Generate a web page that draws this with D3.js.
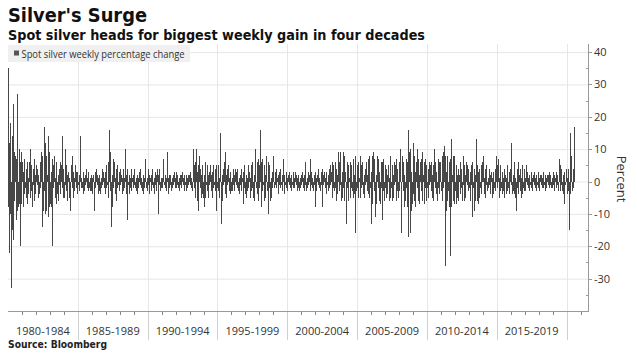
<!DOCTYPE html>
<html>
<head>
<meta charset="utf-8">
<script src="https://cdn.jsdelivr.net/npm/d3@7"></script>
<style>
  html, body { margin: 0; padding: 0; background: #fff; }
  svg { display: block; }
  .tick-label { font-family: "Open Sans", sans-serif; font-size: 11px; fill: #333; }
</style>
</head>
<body>
<div id="chart"></div>
<script>
const chg1980s = [
  [35, -8, -22, 12, -10, 18, -33, 14, -15, 24, -18, 9, -6, 8, -12, 7, -9, 27, -8, 10, -7, 6, -20, 9],
  [-7, 6, -8, 3, -4, 7, -2, 4, -5, 6, -7, 1, -4, 6, -5, 10, -3, 5, -8, 4, -1, 7, -6, 2],
  [-4, 5, -1, 4, -5, 2, -4, 6, -2, 7, 9, -14, 8, -9, 17, -3, 12, -10, 8, -9, 2, -11, 14, -8],
  [9, -7, 3, -8, 7, -20, 5, -2, 8, -5, 1, -7, 6, -4, 2, -6, 4, -1, 6, -4, 5, -2, 14, -5],
  [4, -5, 10, -1, 5, -3, 2, -6, 3, -5, 1, -3, -9, 5, 8, -2, 3, -5, 1, -3, 5, -2, 3, -4],
  [3, -1, 2, -3, 4, 14, -2, 1, -2, 3, -4, 1, -3, 2, -1, 4, -2, 1, -3, 3, -2, 1, -3, 2],
  [-3, 1, -4, 2, -1, -9, 3, -2, 4, -1, 2, -4, 1, -3, 2, -4, 1, -2, 4, -1, 3, -2, 1, -4],
  [3, -2, 5, -1, 6, -5, 8, 16, -3, 9, -14, 2, -8, 7, -2, 6, -4, 1, -6, 4, -2, 5, -1, 3],
  [-3, 4, -1, 2, -4, 1, -3, 4, -2, 1, 10, -4, 2, -12, 4, -1, 2, -4, 1, -2, 4, -3, 1, -2],
  [2, -1, 4, -2, 1, -3, 2, -4, 1, -2, 3, -1, 4, -2, 1, -3, 2, -4, 1, -2, 3, 7, -2, 1]
];
const chg1990s = [
  [-3, 4, -1, 2, -4, 1, -3, 2, -1, 4, -2, 1, -4, 3, -1, 2, -3, 4, -10, 2, -1, 4, -3, 1],
  [-2, 1, -2, 3, 7, -1, 2, -2, 1, -3, 9, -4, 1, -2, 2, -1, 2, -3, 1, -2, 2, -1, 3, -2],
  [1, -2, 3, -1, 2, -2, 1, -3, 2, -1, 2, -2, 3, -1, 1, -3, 2, -1, 2, -3, 1, -2, 2, -1],
  [2, -1, 3, -2, 1, -3, 4, 10, -2, 5, -5, 6, 10, -6, 3, -9, 5, 8, -2, 4, -5, 2, -4, 5],
  [-5, -8, 2, -5, 6, -1, 5, -3, 2, -5, 3, -1, 5, -3, 2, -5, 3, -2, 5, -1, 4, -3, -9, 5],
  [-2, 5, -3, 1, -5, 6, 15, -13, 2, -6, 4, -1, 6, 9, -4, 2, -5, 4, -1, 5, -3, 1, -4, 3],
  [-3, 1, -3, 4, -1, 2, -3, 4, -1, 3, -2, 4, -3, 1, -4, 2, -1, 4, -3, 1, -7, 3, -2, 5],
  [-4, 2, -5, 1, -3, 5, -2, 3, -5, 1, -3, 5, -2, 6, -5, 2, -6, 5, 10, -2, 6, -4, 7, -6],
  [5, -2, 16, -8, 6, -3, 7, -1, 5, -6, 2, -5, 6, 8, -3, -10, 6, -2, 5, -6, 1, -5, 3, -2],
  [4, 8, -2, 3, -1, 4, -2, 1, -4, 2, -1, 3, -2, 4, -1, 2, -3, 1, 7, -4, 2, -1, 3, -2]
];
const chg2000s = [
  [1, -3, 2, -1, 3, -2, 1, -3, 2, -1, 3, -2, 1, -2, 3, -1, 2, -3, 1, -2, 2, -3, 1, -2],
  [2, -1, 3, -2, 1, -3, 2, -1, 6, -3, 1, -2, 3, -1, 2, -3, 7, -1, 3, -2, 1, -3, 2, -1],
  [3, -8, 1, -3, 2, -1, 4, -2, 1, -3, 3, -1, 4, -8, 2, -1, 3, -2, 1, -4, 3, -1, 2, -3],
  [4, -2, 5, -1, 3, -5, 6, -2, 5, -3, 6, -2, 4, -6, 2, -4, 9, -3, 6, -1, 9, -6, 3, -5],
  [9, -2, 8, -6, 3, -5, -13, 6, -2, 5, -6, 1, -5, 6, -2, 5, -3, 7, -5, 2, -4, -16, 8, -3],
  [5, -2, 6, -5, 1, -5, 8, -2, 5, -1, 6, -4, 2, -5, 4, -1, 6, -3, 2, -4, 7, -5, 8, -2],
  [-13, 3, -7, 8, 9, -3, 7, -8, -11, 2, -7, 8, -2, 7, -6, 3, -7, 6, -2, -12, 6, -3, 7, -6],
  [5, -2, 4, -5, 2, -4, 5, -6, 1, -5, 8, -2, 5, -6, 2, -5, 6, -1, 5, -6, 7, -3, 4, -5],
  [6, -3, 7, 10, -6, -16, 8, -3, 6, -8, 2, -6, 7, -2, 6, -8, 16, -17, 9, -16, 10, -9, 3, -7],
  [12, -4, 8, -6, 3, -8, 6, 10, -2, 7, -6, 2, -7, 6, -3, 7, 9, -6, 2, -7, 6, -2, 7, -6]
];
const chg2010s = [
  [5, -2, 4, -5, 6, -1, 5, -3, 6, -5, 2, -6, 5, 10, -2, 6, -4, 3, -6, 7, -2, 6, -4, 5],
  [6, -3, 8, -6, 9, -2, 11, -26, 8, -9, 3, -6, 8, -3, 6, -8, 7, -23, 13, -8, 2, -6, 8, -7],
  [8, -3, 5, -7, 2, -5, 4, -6, 2, -4, 6, -2, 4, -6, 8, -1, 5, -6, 2, -5, 6, -1, 5, -3],
  [4, -2, 3, -6, 5, -1, -11, 6, -2, -9, 4, -6, 2, 13, -6, 5, -7, 3, -5, 4, -2, 5, -4, 6],
  [2, 8, -4, 1, -5, 4, -1, 5, -3, 1, -2, 4, -1, 2, -4, 3, -5, 1, -4, 3, -2, 4, -3, 1],
  [8, -2, 5, 7, -5, 1, -3, 5, -2, 3, -4, 1, -3, 4, -5, 2, -4, 1, -3, 5, -2, 3, -4, 1],
  [4, -1, 12, -4, 2, -3, 6, -4, 1, -5, -9, 4, -2, 6, -4, 2, -3, 4, -5, 1, -4, 5, -2, 4],
  [-3, 1, -3, 5, -1, 3, -2, 1, -3, 2, -1, 3, -2, 1, -3, 2, -1, 3, -2, 1, -3, 2, -1, 3],
  [-2, 1, -3, 2, -1, 2, -2, 1, -2, 3, -1, 2, -3, 1, -2, 2, -1, 2, -2, 3, -1, 2, -2, 1],
  [-2, 3, -1, 2, -3, 1, -2, 3, -1, 2, -3, 4, 7, -3, 5, -1, 4, -3, 2, -4, -7, 3, -1, 4]
];
const chg2020 = [3, -4, 1, -3, 4, -15, 15, -4, 5, 8, -3, 4, -2, 17];

const periodLabels = ["1980-1984", "1985-1989", "1990-1994", "1995-1999", "2000-2004", "2005-2009", "2010-2014", "2015-2019"];
const yTicks = [40, 30, 20, 10, 0, -10, -20, -30];

const W = 637, H = 353;
const PER_YEAR = 24;

// flatten into dated points
function toDate(yf) {
  const y = Math.floor(yf);
  const start = Date.UTC(y, 0, 1), end = Date.UTC(y + 1, 0, 1);
  return new Date(start + (yf - y) * (end - start));
}
const data = [];
[[1980, chg1980s], [1990, chg1990s], [2000, chg2000s], [2010, chg2010s], [2020, [chg2020]]].forEach(([y0, years]) => {
  years.forEach((vals, k) => vals.forEach((v, i) => data.push({ date: toDate(y0 + k + i / PER_YEAR), v })));
});

const svg = d3.select("#chart").append("svg").attr("width", W).attr("height", H);

const x = d3.scaleUtc().domain([toDate(1980), toDate(2021.53)]).range([8, 588]);
const y = d3.scaleLinear().domain([-40, 42.5]).range([311, 44]);

// grid
svg.append("g").selectAll("line").data(yTicks).join("line")
  .attr("x1", 8).attr("x2", 588).attr("y1", (d) => y(d) + 0.5).attr("y2", (d) => y(d) + 0.5)
  .attr("stroke", "#e6e6e6");
const bounds = d3.range(1985, 2021, 5);
svg.append("g").selectAll("line").data(bounds).join("line")
  .attr("x1", (d) => Math.round(x(toDate(d))) + 0.5).attr("x2", (d) => Math.round(x(toDate(d))) + 0.5)
  .attr("y1", 44).attr("y2", 311).attr("stroke", "#e6e6e6");

// legend
const lg = svg.append("g");
lg.append("rect").attr("x", 8).attr("y", 45).attr("width", 182).attr("height", 17).attr("fill", "#f0f0f0");
lg.append("rect").attr("x", 14).attr("y", 50.5).attr("width", 5).attr("height", 5).attr("fill", "#555");
lg.append("text").attr("x", 21.5).attr("y", 57.5).attr("font-family", "Open Sans, sans-serif")
  .attr("font-size", 10).attr("fill", "#333").attr("textLength", 163).attr("lengthAdjust", "spacingAndGlyphs")
  .text("Spot silver weekly percentage change");

// bars, snapped to whole pixels so the dense band reads solid
svg.append("g").attr("shape-rendering", "crispEdges")
  .selectAll("rect").data(data).join("rect")
  .attr("x", (d) => Math.round(x(d.date) - 0.5)).attr("width", 1)
  .attr("y", (d) => y(Math.max(0, d.v))).attr("height", (d) => Math.abs(y(d.v) - y(0)))
  .attr("fill", "#474747");

// x axis
svg.append("line").attr("x1", 8).attr("x2", 589).attr("y1", 311.5).attr("y2", 311.5).attr("stroke", "#999");
svg.append("g").selectAll("line").data(d3.range(1981, 2022).filter((d) => d % 5 !== 0)).join("line")
  .attr("x1", (d) => Math.round(x(toDate(d))) + 0.5).attr("x2", (d) => Math.round(x(toDate(d))) + 0.5)
  .attr("y1", 312).attr("y2", 315).attr("stroke", "#888");
svg.append("g").selectAll("line").data(bounds).join("line")
  .attr("x1", (d) => Math.round(x(toDate(d))) + 0.5).attr("x2", (d) => Math.round(x(toDate(d))) + 0.5)
  .attr("y1", 312).attr("y2", 340).attr("stroke", "#cfcfcf");
svg.append("g").selectAll("text").data(periodLabels).join("text")
  .attr("class", "tick-label")
  .attr("x", (d, i) => x(toDate(1982.5 + i * 5))).attr("y", 335)
  .attr("text-anchor", "middle").text((d) => d);

// y axis (right)
svg.append("line").attr("x1", 588.5).attr("x2", 588.5).attr("y1", 44).attr("y2", 312).attr("stroke", "#999");
svg.append("g").selectAll("line").data(d3.range(-35, 40, 10)).join("line")
  .attr("x1", 586).attr("x2", 588).attr("y1", (d) => Math.round(y(d)) + 0.5).attr("y2", (d) => Math.round(y(d)) + 0.5)
  .attr("stroke", "#999");
svg.append("g").selectAll("line").data(yTicks).join("line")
  .attr("x1", 588).attr("x2", 592).attr("y1", (d) => Math.round(y(d)) + 0.5).attr("y2", (d) => Math.round(y(d)) + 0.5)
  .attr("stroke", "#999");
svg.append("g").selectAll("text").data(yTicks).join("text")
  .attr("class", "tick-label")
  .attr("x", 594).attr("y", (d) => y(d) + 4)
  .text((d) => d);
svg.append("text").attr("transform", "translate(617,179) rotate(90)")
  .attr("text-anchor", "middle").attr("font-family", "Open Sans, sans-serif").attr("font-size", 13)
  .attr("fill", "#333").text("Percent");

// titles
svg.append("text").attr("x", 8).attr("y", 22).attr("font-family", "DejaVu Sans, sans-serif")
  .attr("font-weight", "bold").attr("font-size", 19).attr("fill", "#111")
  .attr("textLength", 139).attr("lengthAdjust", "spacingAndGlyphs").text("Silver's Surge");
svg.append("text").attr("x", 8).attr("y", 39.5).attr("font-family", "DejaVu Sans, sans-serif")
  .attr("font-weight", "bold").attr("font-size", 14).attr("fill", "#111")
  .attr("textLength", 417).attr("lengthAdjust", "spacingAndGlyphs")
  .text("Spot silver heads for biggest weekly gain in four decades");
svg.append("text").attr("x", 8).attr("y", 347.5).attr("font-family", "DejaVu Sans, sans-serif")
  .attr("font-weight", "bold").attr("font-size", 10).attr("fill", "#222")
  .attr("textLength", 99).attr("lengthAdjust", "spacingAndGlyphs").text("Source: Bloomberg");
</script>
</body>
</html>
